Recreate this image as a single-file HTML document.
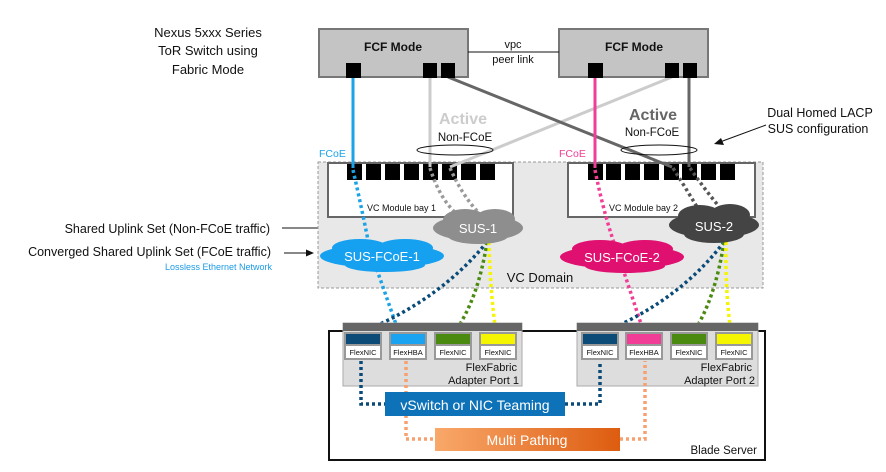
<!DOCTYPE html>
<html><head><meta charset="utf-8"><style>
html,body{margin:0;padding:0;background:#fff;}
svg{display:block;font-family:"Liberation Sans",sans-serif;}
</style></head><body>
<svg width="886" height="472" viewBox="0 0 886 472" xmlns="http://www.w3.org/2000/svg">
<defs>
<linearGradient id="og" x1="0" x2="1"><stop offset="0" stop-color="#f9a86a"/><stop offset="1" stop-color="#dd5c10"/></linearGradient>
</defs>
<!-- left labels -->
<g font-size="13" text-anchor="middle" fill="#111">
<text x="208" y="37">Nexus 5xxx Series</text>
<text x="208" y="55">ToR Switch using</text>
<text x="208" y="74">Fabric Mode</text>
</g>
<g font-size="12.5" text-anchor="end" fill="#111">
<text x="270" y="233">Shared Uplink Set (Non-FCoE traffic)</text>
<text x="271" y="256">Converged Shared Uplink Set (FCoE traffic)</text>
</g>
<text x="272" y="270" font-size="9" text-anchor="end" fill="#1a9be6">Lossless Ethernet Network</text>
<g font-size="12.5" text-anchor="middle" fill="#111">
<text x="820" y="117">Dual Homed LACP</text>
<text x="818" y="133">SUS configuration</text>
</g>
<line x1="282" y1="228" x2="420" y2="228" stroke="#111" stroke-width="1"/>
<polygon points="425,228 417,224.5 417,231.5" fill="#111"/>
<line x1="284" y1="253" x2="308" y2="253" stroke="#111" stroke-width="1"/>
<polygon points="314,253 306,249.5 306,256.5" fill="#111"/>
<line x1="766" y1="125" x2="720" y2="142" stroke="#111" stroke-width="1"/>
<polygon points="714,144 721,138 724,145" fill="#111"/>

<!-- VC domain -->
<rect x="318" y="162" width="445" height="126" fill="#e8e8e8" stroke="#999" stroke-dasharray="3,2"/>
<rect x="328" y="163" width="185" height="54" fill="#fff" stroke="#666" stroke-width="2"/>
<rect x="568" y="163" width="187" height="54" fill="#fff" stroke="#666" stroke-width="2"/>
<g fill="#000">
<rect x="347" y="164" width="15" height="16"/><rect x="366" y="164" width="15" height="16"/><rect x="385" y="164" width="15" height="16"/><rect x="404" y="164" width="15" height="16"/><rect x="423" y="164" width="15" height="16"/><rect x="442" y="164" width="15" height="16"/><rect x="461" y="164" width="15" height="16"/><rect x="480" y="164" width="15" height="16"/>
<rect x="588" y="164" width="15" height="16"/><rect x="606" y="164" width="15" height="16"/><rect x="625" y="164" width="15" height="16"/><rect x="644" y="164" width="15" height="16"/><rect x="664" y="164" width="15" height="16"/><rect x="682" y="164" width="15" height="16"/><rect x="701" y="164" width="15" height="16"/><rect x="720" y="164" width="15" height="16"/>
</g>
<text x="367" y="211" font-size="9" fill="#111">VC Module bay 1</text>
<text x="609" y="211" font-size="9" fill="#111">VC Module bay 2</text>
<text x="540" y="282" font-size="13" text-anchor="middle" fill="#111">VC Domain</text>

<!-- uplinks -->
<line x1="430" y1="77" x2="430" y2="167" stroke="#ccc" stroke-width="3"/>
<line x1="672" y1="77" x2="450" y2="167" stroke="#ccc" stroke-width="3"/>
<line x1="448" y1="77" x2="672" y2="167" stroke="#666" stroke-width="3"/>
<line x1="689" y1="77" x2="689" y2="167" stroke="#666" stroke-width="3"/>
<line x1="353" y1="77" x2="353" y2="168" stroke="#1aa3e6" stroke-width="3"/>
<line x1="595" y1="77" x2="595" y2="168" stroke="#f23d97" stroke-width="3"/>
<ellipse cx="455" cy="150" rx="38" ry="5" fill="none" stroke="#111" stroke-width="1"/>
<ellipse cx="659" cy="150" rx="38" ry="5" fill="none" stroke="#111" stroke-width="1"/>
<text x="463" y="124" font-size="16" font-weight="bold" text-anchor="middle" fill="#ccc">Active</text>
<text x="465" y="141" font-size="11.5" text-anchor="middle" fill="#111">Non-FCoE</text>
<text x="653" y="120" font-size="16" font-weight="bold" text-anchor="middle" fill="#666">Active</text>
<text x="652" y="136" font-size="11.5" text-anchor="middle" fill="#111">Non-FCoE</text>
<text x="319" y="157" font-size="10.5" fill="#1aa3e6">FCoE</text>
<text x="559" y="157" font-size="10.5" fill="#f23d97">FCoE</text>

<!-- switches -->
<rect x="319" y="29" width="149" height="48" fill="#c4c4c4" stroke="#777" stroke-width="2"/>
<rect x="559" y="29" width="149" height="48" fill="#c4c4c4" stroke="#777" stroke-width="2"/>
<text x="393" y="51" font-size="12" font-weight="bold" text-anchor="middle" fill="#111">FCF Mode</text>
<text x="634" y="51" font-size="12" font-weight="bold" text-anchor="middle" fill="#111">FCF Mode</text>
<g fill="#000">
<rect x="346" y="63" width="15" height="15"/><rect x="423" y="63" width="14" height="15"/><rect x="441" y="63" width="14" height="15"/>
<rect x="588" y="63" width="15" height="15"/><rect x="665" y="63" width="14" height="15"/><rect x="683" y="63" width="14" height="15"/>
</g>
<line x1="468" y1="52" x2="559" y2="52" stroke="#111"/>
<text x="513" y="48" font-size="11" text-anchor="middle" fill="#111">vpc</text>
<text x="513" y="63" font-size="11" text-anchor="middle" fill="#111">peer link</text>

<!-- dotted links -->
<g fill="none" stroke-width="3.5" stroke-dasharray="3,3">
<path d="M430,168 Q440,200 458,215" stroke="#999"/>
<path d="M450,168 Q462,195 478,212" stroke="#999"/>
<path d="M673,168 Q690,195 700,212" stroke="#555"/>
<path d="M690,168 Q705,190 722,210" stroke="#555"/>
<path d="M353,170 Q360,200 370,250 L398,330" stroke="#1aa3e6"/>
<path d="M595,170 Q605,220 620,260 L643,330" stroke="#f23d97"/>
<path d="M487,242 Q440,300 362,332" stroke="#0a4a78"/>
<path d="M487,242 Q478,300 454,333" stroke="#4a8a10"/>
<path d="M489,242 Q490,290 496,333" stroke="#f5f500"/>
<path d="M724,242 Q680,300 604,332" stroke="#0a4a78"/>
<path d="M724,242 Q715,300 693,333" stroke="#4a8a10"/>
<path d="M726,242 Q725,290 731,333" stroke="#f5f500"/>
</g>

<!-- clouds -->
<g fill="#8e8e8e"><ellipse cx="478" cy="228" rx="45" ry="13"/><ellipse cx="465" cy="220" rx="22" ry="11"/><ellipse cx="495" cy="219" rx="20" ry="10"/><ellipse cx="478" cy="236" rx="30" ry="8"/></g>
<text x="478" y="233" font-size="13" fill="#fff" text-anchor="middle">SUS-1</text>
<g fill="#16a0f0"><ellipse cx="382" cy="256" rx="62" ry="12"/><ellipse cx="360" cy="248" rx="28" ry="9"/><ellipse cx="405" cy="248" rx="28" ry="9"/><ellipse cx="385" cy="265" rx="40" ry="7"/></g>
<text x="382" y="261" font-size="13" fill="#fff" text-anchor="middle">SUS-FCoE-1</text>
<g fill="#df1070"><ellipse cx="622" cy="257" rx="62" ry="12"/><ellipse cx="600" cy="249" rx="28" ry="9"/><ellipse cx="645" cy="249" rx="28" ry="9"/><ellipse cx="625" cy="266" rx="40" ry="7"/></g>
<text x="622" y="262" font-size="13" fill="#fff" text-anchor="middle">SUS-FCoE-2</text>
<g fill="#444"><ellipse cx="714" cy="225" rx="45" ry="13"/><ellipse cx="700" cy="216" rx="22" ry="11"/><ellipse cx="730" cy="215" rx="20" ry="11"/><ellipse cx="714" cy="234" rx="30" ry="9"/></g>
<text x="714" y="231" font-size="13" fill="#fff" text-anchor="middle">SUS-2</text>

<!-- blade server -->
<rect x="329" y="331" width="436" height="129" fill="#fff" stroke="#111" stroke-width="2"/>
<text x="757" y="454" font-size="11.5" text-anchor="end" fill="#111">Blade Server</text>

<!-- adapters -->
<g>
<rect x="343" y="323" width="179" height="63" fill="#ddd" stroke="#aaa"/>
<rect x="343" y="323" width="179" height="8" fill="#666"/>
<rect x="577" y="323" width="181" height="63" fill="#ddd" stroke="#aaa"/>
<rect x="577" y="323" width="181" height="8" fill="#666"/>
</g>
<g font-size="7.5" text-anchor="middle" fill="#111">
<rect x="344" y="332" width="38" height="28" fill="#999"/><rect x="346" y="334" width="34" height="10" fill="#0c4a78"/><rect x="346" y="346" width="34" height="12" fill="#fff"/><text x="363" y="355">FlexNIC</text>
<rect x="389" y="332" width="38" height="28" fill="#999"/><rect x="391" y="334" width="34" height="10" fill="#1aa3f0"/><rect x="391" y="346" width="34" height="12" fill="#fff"/><text x="408" y="355">FlexHBA</text>
<rect x="434" y="332" width="38" height="28" fill="#999"/><rect x="436" y="334" width="34" height="10" fill="#4a8a10"/><rect x="436" y="346" width="34" height="12" fill="#fff"/><text x="453" y="355">FlexNIC</text>
<rect x="479" y="332" width="38" height="28" fill="#999"/><rect x="481" y="334" width="34" height="10" fill="#f5f500"/><rect x="481" y="346" width="34" height="12" fill="#fff"/><text x="498" y="355">FlexNIC</text>
<rect x="581" y="332" width="38" height="28" fill="#999"/><rect x="583" y="334" width="34" height="10" fill="#0c4a78"/><rect x="583" y="346" width="34" height="12" fill="#fff"/><text x="600" y="355">FlexNIC</text>
<rect x="625" y="332" width="38" height="28" fill="#999"/><rect x="627" y="334" width="34" height="10" fill="#f23d97"/><rect x="627" y="346" width="34" height="12" fill="#fff"/><text x="644" y="355">FlexHBA</text>
<rect x="670" y="332" width="38" height="28" fill="#999"/><rect x="672" y="334" width="34" height="10" fill="#4a8a10"/><rect x="672" y="346" width="34" height="12" fill="#fff"/><text x="689" y="355">FlexNIC</text>
<rect x="715" y="332" width="38" height="28" fill="#999"/><rect x="717" y="334" width="34" height="10" fill="#f5f500"/><rect x="717" y="346" width="34" height="12" fill="#fff"/><text x="734" y="355">FlexNIC</text>
</g>
<g font-size="11" text-anchor="end" fill="#111">
<text x="517" y="371">FlexFabric</text><text x="519" y="384">Adapter Port 1</text>
<text x="752" y="371">FlexFabric</text><text x="755" y="384">Adapter Port 2</text>
</g>

<!-- server paths -->
<g fill="none" stroke-width="3.5" stroke-dasharray="3,3">
<path d="M361,361 L361,404 L388,404" stroke="#0a4a78"/>
<path d="M565,404 L600,404 L600,361" stroke="#0a4a78"/>
<path d="M406,361 L406,439 L436,439" stroke="#f7a070"/>
<path d="M620,439 L645,439 L645,361" stroke="#f7a070"/>
</g>
<rect x="385" y="392" width="180" height="24" fill="#0e72b8"/>
<text x="475" y="410" font-size="14" fill="#fff" text-anchor="middle">vSwitch or NIC Teaming</text>
<rect x="435" y="428" width="185" height="23" fill="url(#og)"/>
<text x="527" y="445" font-size="14" fill="#fff" text-anchor="middle">Multi Pathing</text>
</svg>
</body></html>
